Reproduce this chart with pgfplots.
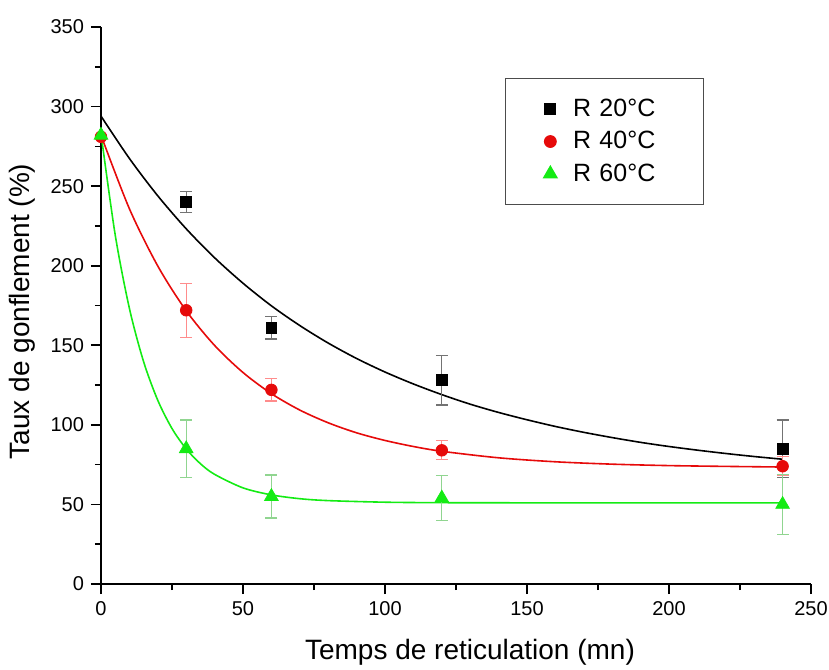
\documentclass[border=0pt]{standalone}
\usepackage{pgfplots}
\pgfplotsset{compat=1.18}
\usepackage{fontspec}
\setmainfont{Liberation Sans}
\definecolor{cblack}{RGB}{0,0,0}
\definecolor{cred}{RGB}{230,10,10}
\definecolor{cgreen}{RGB}{20,235,20}
\begin{document}
\begin{tikzpicture}
\path[use as bounding box] (-50.5pt,-42.5pt) rectangle (364pt,292pt);
\begin{axis}[
  scale only axis, width=355pt, height=278.5pt,
  xmin=0, xmax=250, ymin=0, ymax=350,
  axis x line=bottom, axis y line=left,
  axis line style={-, line width=0.9pt},
  xtick={0,50,...,250}, ytick={0,50,...,350},
  minor tick num=1,
  tick align=outside,
  major tick length=5pt, minor tick length=3pt,
  tick style={line width=0.8pt, black},
  /pgf/number format/assume math mode=true,
  ticklabel style={font=\fontsize{10}{12}\selectfont},
  xlabel={Temps de reticulation (mn)},
  ylabel={Taux de gonflement (\%)},
  label style={font=\fontsize{14}{16}\selectfont},
  xlabel style={yshift=-5pt, xshift=7pt},
  ylabel style={yshift=1pt, xshift=-3pt},
  clip=false,
  legend style={at={(0.569,0.908)}, anchor=north west, draw=black!70, line width=0.6pt,
    font=\fontsize{12.5}{15}\selectfont, inner xsep=19pt, inner ysep=8pt,
    row sep=2pt, /tikz/every odd column/.append style={column sep=6pt},
    /tikz/every even column/.append style={text width=44pt}},
  legend cell align=left,
]
% fitted curves
\addplot[forget plot, cblack, line width=0.8pt, smooth] coordinates {
(0,294) (10,267.4) (20,243.9) (30,223.2) (40,205.0) (50,189.0) (60,174.8) (70,162.4)
(80,151.4) (90,141.7) (100,133.2) (110,125.7) (120,119.0) (130,113.0) (140,107.8)
(150,103.2) (160,99.0) (170,95.3) (180,92.0) (190,89.0) (200,86.4) (210,84.1)
(220,82.0) (230,80.1) (240,78.4)};
\addplot[forget plot, cred, line width=0.8pt, smooth] coordinates {
(0,282) (10,235.8) (20,199.8) (30,171.7) (40,149.9) (50,132.9) (60,119.6) (70,109.3)
(80,101.3) (90,95.0) (100,90.2) (110,86.4) (120,83.4) (140,79.3) (160,76.8)
(180,75.3) (200,74.4) (220,73.9) (240,73.5)};
\addplot[forget plot, cgreen, line width=0.8pt, smooth] coordinates {
(0,283) (5,219.4) (10,173.2) (15,139.7) (20,115.4) (25,97.7) (30,84.9) (35,75.6)
(40,68.9) (50,60.4) (60,56.0) (70,53.6) (80,52.4) (100,51.4) (120,51.1) (160,51.0)
(200,51.0) (240,51.0)};
% data
\addplot[only marks, mark=square*, mark size=2.7pt, cblack,
  error bars/.cd, y dir=both, y explicit,
  error bar style={black!55, line width=0.6pt},
  error mark options={rotate=90, mark size=3pt, black!55, line width=0.6pt}]
  coordinates {
  (30,240) +- (0,6.5)
  (60,161) +- (0,7)
  (120,128) +- (0,15.5)
  (240,85) +- (0,18)};
\addlegendentry{R 20°C}
\addplot[only marks, mark=*, mark size=2.9pt, cred,
  error bars/.cd, y dir=both, y explicit,
  error bar style={red!45, line width=0.6pt},
  error mark options={rotate=90, mark size=3pt, red!45, line width=0.6pt}]
  coordinates {
  (0,281) +- (0,0)
  (30,172) +- (0,17)
  (60,122) +- (0,7)
  (120,84) +- (0,6)
  (240,74) +- (0,6)};
\addlegendentry{R 40°C}
\addplot[only marks, mark=triangle*, mark size=3.9pt, cgreen,
  error bars/.cd, y dir=both, y explicit,
  error bar style={green!45!gray!60, line width=0.6pt},
  error mark options={rotate=90, mark size=3pt, green!45!gray!60, line width=0.6pt}]
  coordinates {
  (0,282) +- (0,0)
  (30,85) +- (0,18)
  (60,55) +- (0,13.5)
  (120,54) +- (0,14)
  (240,50) +- (0,19)};
\addlegendentry{R 60°C}
\end{axis}
\end{tikzpicture}
\end{document}
